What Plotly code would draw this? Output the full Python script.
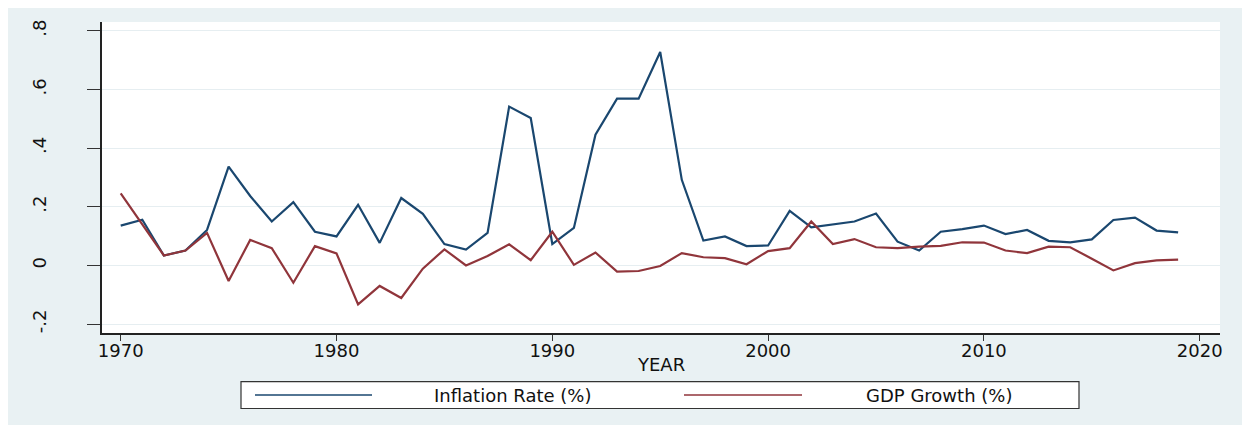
import plotly.graph_objects as go

years = list(range(1970, 2020))

inflation = [0.136, 0.156, 0.034, 0.051, 0.121, 0.337, 0.237, 0.150, 0.216, 0.115,
             0.099, 0.207, 0.077, 0.230, 0.176, 0.073, 0.054, 0.111, 0.542, 0.503,
             0.073, 0.128, 0.446, 0.569, 0.569, 0.728, 0.292, 0.085, 0.099, 0.066,
             0.068, 0.186, 0.130, 0.141, 0.150, 0.177, 0.081, 0.051, 0.115, 0.124,
             0.136, 0.107, 0.121, 0.084, 0.079, 0.089, 0.155, 0.163, 0.119, 0.113]

gdp_growth = [0.246, 0.140, 0.034, 0.051, 0.111, -0.053, 0.087, 0.059, -0.059, 0.066,
              0.041, -0.133, -0.070, -0.111, -0.011, 0.055, 0.000, 0.032, 0.072, 0.018,
              0.115, 0.002, 0.044, -0.021, -0.019, -0.002, 0.042, 0.028, 0.025, 0.004,
              0.049, 0.059, 0.150, 0.073, 0.090, 0.062, 0.059, 0.064, 0.067, 0.079,
              0.078, 0.051, 0.042, 0.064, 0.062, 0.023, -0.017, 0.008, 0.017, 0.020]

x_ticks = [1970, 1980, 1990, 2000, 2010, 2020]
y_tickvals = [-0.2, 0, 0.2, 0.4, 0.6, 0.8]
y_ticktext = ["-.2", "0", ".2", ".4", ".6", ".8"]

series_names = ["Inflation Rate (%)", "GDP Growth (%)"]
series_colors = ["#1A476F", "#90353B"]
x_title = "YEAR"

# page is offset by the 8px default body margin
OFF = 8
W, H = 1250 - OFF, 425 - OFF
# plot area in page pixels
PL, PR, PT, PB = 102, 1220, 20, 333
L, R, T, B = PL - OFF, PR - OFF, PT - OFF, PB - OFF
FONT = "DejaVu Sans"
FS = 18
BG = "#E9F1F3"


def px(xp):
    return (xp - PL) / (PR - PL)


def py(yp):
    return (PB - yp) / (PB - PT)


fig = go.Figure()
for name, vals, col in zip(series_names, [inflation, gdp_growth], series_colors):
    fig.add_trace(go.Scatter(x=years, y=vals, mode="lines", name=name,
                             line=dict(color=col, width=2.2), showlegend=False))

shapes = [
    dict(type="rect", xref="paper", yref="paper", x0=px(241), x1=px(1079), y0=py(409), y1=py(382),
         fillcolor="white", line=dict(color="#333333", width=1.2), layer="above"),
    dict(type="line", xref="paper", yref="paper", x0=px(255), x1=px(372), y0=py(395.5), y1=py(395.5),
         line=dict(color=series_colors[0], width=1.5), layer="above"),
    dict(type="line", xref="paper", yref="paper", x0=px(684), x1=px(802), y0=py(395.5), y1=py(395.5),
         line=dict(color=series_colors[1], width=1.5), layer="above"),
]

annotations = [
    dict(xref="paper", yref="paper", x=px(512), y=py(396), text=series_names[0], showarrow=False,
         xanchor="center", yanchor="middle", font=dict(family=FONT, size=FS, color="#111111")),
    dict(xref="paper", yref="paper", x=px(939), y=py(396), text=series_names[1], showarrow=False,
         xanchor="center", yanchor="middle", font=dict(family=FONT, size=FS, color="#111111")),
    dict(xref="paper", yref="paper", x=px(661), y=py(365), text=x_title, showarrow=False,
         xanchor="center", yanchor="middle", font=dict(family=FONT, size=FS, color="#111111")),
]

fig.update_layout(
    width=W, height=H,
    margin=dict(l=L, r=W - R, t=T, b=H - B, pad=0),
    paper_bgcolor=BG,
    plot_bgcolor="white",
    font=dict(family=FONT, size=FS, color="#111111"),
    shapes=shapes,
    annotations=annotations,
    showlegend=False,
    xaxis=dict(
        range=[1969.133, 2020.94], tickvals=x_ticks, ticks="outside", ticklen=6, tickwidth=1.2,
        tickcolor="#333333", showline=True, linecolor="#222222", linewidth=1.5,
        showgrid=False, zeroline=False, tickfont=dict(family=FONT, size=FS),
        ticklabelstandoff=-5,
    ),
    yaxis=dict(
        range=[-0.2305, 0.8305], tickvals=y_tickvals, ticktext=y_ticktext, ticks="outside",
        ticklen=13, tickwidth=1.2, tickcolor="#333333", showline=True, linecolor="#222222",
        linewidth=1.5, showgrid=True, gridcolor="#E6EEF1", gridwidth=1, zeroline=False,
        tickangle=-90, tickfont=dict(family=FONT, size=FS), ticklabelstandoff=34,
    ),
)

fig.write_html("out.html")
